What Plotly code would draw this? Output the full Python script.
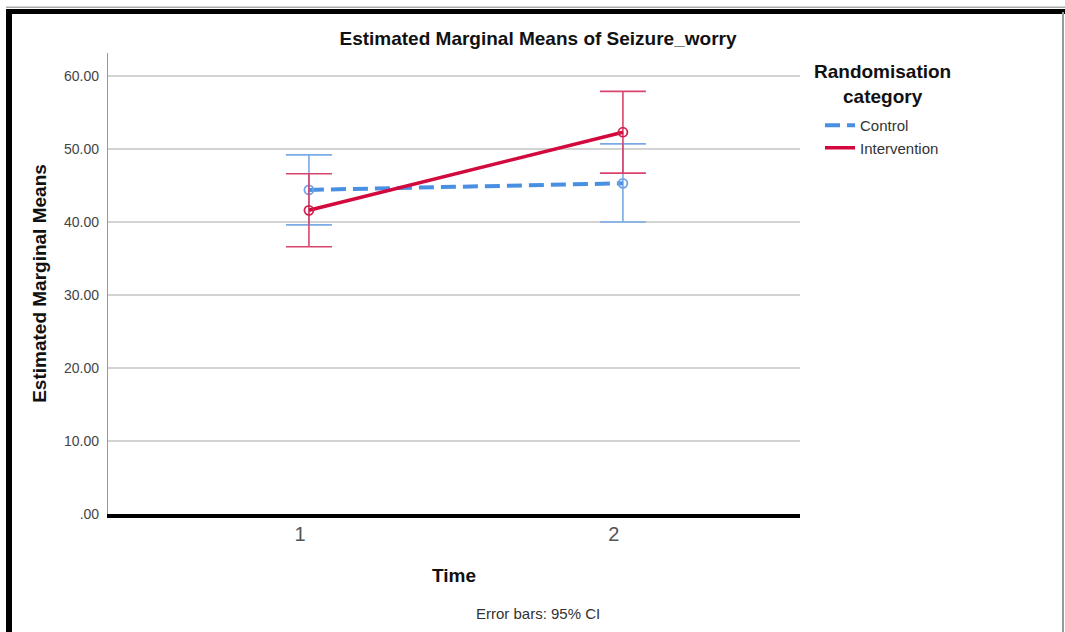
import plotly.graph_objects as go

# Estimated marginal means of Seizure_worry by time and randomisation group
time_points = [1, 2]
groups = ["Control", "Intervention"]
control_mean = [44.4, 45.3]
control_ci_low = [39.6, 40.0]
control_ci_high = [49.2, 50.7]
intervention_mean = [41.6, 52.3]
intervention_ci_low = [36.6, 46.7]
intervention_ci_high = [46.6, 57.9]
y_tick_vals = [0, 10, 20, 30, 40, 50, 60]
y_tick_text = [".00", "10.00", "20.00", "30.00", "40.00", "50.00", "60.00"]

W, H = 1065, 632
L, R, T, B = 108, 800, 53, 514  # plot area in pixels

FONT = "Liberation Sans, Arial, sans-serif"


def px_x(p):
    return (p - L) / (R - L)


def px_y(p):
    return (B - p) / (B - T)


series = [
    dict(name=groups[0], mean=control_mean, lo=control_ci_low, hi=control_ci_high,
         line=dict(color="#4A90E2", width=4, dash="15px,7px"), err="#7AAAE6",
         marker="#6FA3E6"),
    dict(name=groups[1], mean=intervention_mean, lo=intervention_ci_low,
         hi=intervention_ci_high, line=dict(color="#D3083C", width=3.5),
         err="#D8456C", marker="#D3204C"),
]

fig = go.Figure()
for s in series:
    plus = [h - m for h, m in zip(s["hi"], s["mean"])]
    minus = [m - l for m, l in zip(s["mean"], s["lo"])]
    fig.add_trace(go.Scatter(
        x=time_points, y=s["mean"], name=s["name"], mode="lines+markers",
        line=s["line"], showlegend=False,
        marker=dict(symbol="circle-open", size=9, color=s["marker"],
                    line=dict(width=1.8, color=s["marker"])),
        error_y=dict(type="data", symmetric=False, array=plus, arrayminus=minus,
                     color=s["err"], thickness=1.6, width=23),
    ))

# Legend entries show the line style only
for s in series:
    fig.add_trace(go.Scatter(x=[None], y=[None], name=s["name"], mode="lines",
                             line=s["line"], showlegend=True))

fig.update_layout(
    width=W, height=H,
    margin=dict(l=L, r=W - R, t=T, b=H - B, pad=0),
    paper_bgcolor="white", plot_bgcolor="white",
    font=dict(family=FONT, color="#222"),
    title=dict(text="<b>Estimated Marginal Means of Seizure_worry</b>",
               font=dict(size=19, color="#111", family=FONT),
               xref="container", x=538 / W, xanchor="center",
               yref="container", y=1 - 38 / H, yanchor="middle"),
    xaxis=dict(range=[0.36, 2.564], tickvals=time_points,
               ticktext=[str(t) for t in time_points],
               tickfont=dict(size=20, color="#555"),
               showgrid=False, zeroline=False,
               showline=True, linecolor="black", linewidth=4,
               ticks="", ticklabelstandoff=-1, ticklabelshift=-9,
               title=dict(text="<b>Time</b>", font=dict(size=19, color="#111"),
                          standoff=26)),
    yaxis=dict(range=[0, 63.15], tickvals=y_tick_vals, ticktext=y_tick_text,
               tickfont=dict(size=14, color="#444"),
               showgrid=True, gridcolor="#D3D3D3", gridwidth=1.5,
               zeroline=False, showline=True, linecolor="#999", linewidth=1.2,
               ticks="", ticklabelstandoff=5,
               title=dict(text="<b>Estimated Marginal Means</b>",
                          font=dict(size=19, color="#111"), standoff=12)),
    legend=dict(
        x=px_x(820), y=px_y(109), xanchor="left", yanchor="top",
        font=dict(size=15, color="#333"),
        bgcolor="rgba(0,0,0,0)", itemwidth=30, tracegroupgap=0,
    ),
)

fig.add_annotation(text="<b>Randomisation<br>category</b>", xref="paper", yref="paper",
                   x=px_x(882), y=px_y(84), xanchor="center", yanchor="middle",
                   align="center", showarrow=False,
                   font=dict(size=19, color="#111"))

fig.add_annotation(text="Error bars: 95% CI", xref="paper", yref="paper",
                   x=px_x(538), y=px_y(613), xanchor="center", yanchor="middle",
                   showarrow=False, font=dict(size=15, color="#333"))

# Outer frame of the chart output
frame = [
    dict(x0=px_x(6), x1=px_x(W), y0=px_y(9), y1=px_y(14), fill="black"),
    dict(x0=px_x(6), x1=px_x(12), y0=px_y(9), y1=px_y(H + 2), fill="black"),
    dict(x0=px_x(1062), x1=px_x(1064), y0=px_y(12), y1=px_y(H + 2), fill="#999"),
    dict(x0=px_x(6), x1=px_x(W), y0=px_y(6.5), y1=px_y(8), fill="#AAA"),
]
for f in frame:
    fig.add_shape(type="rect", xref="paper", yref="paper",
                  x0=f["x0"], x1=f["x1"], y0=f["y0"], y1=f["y1"],
                  fillcolor=f["fill"], line=dict(width=0), layer="above")

fig.write_html("out.html")
